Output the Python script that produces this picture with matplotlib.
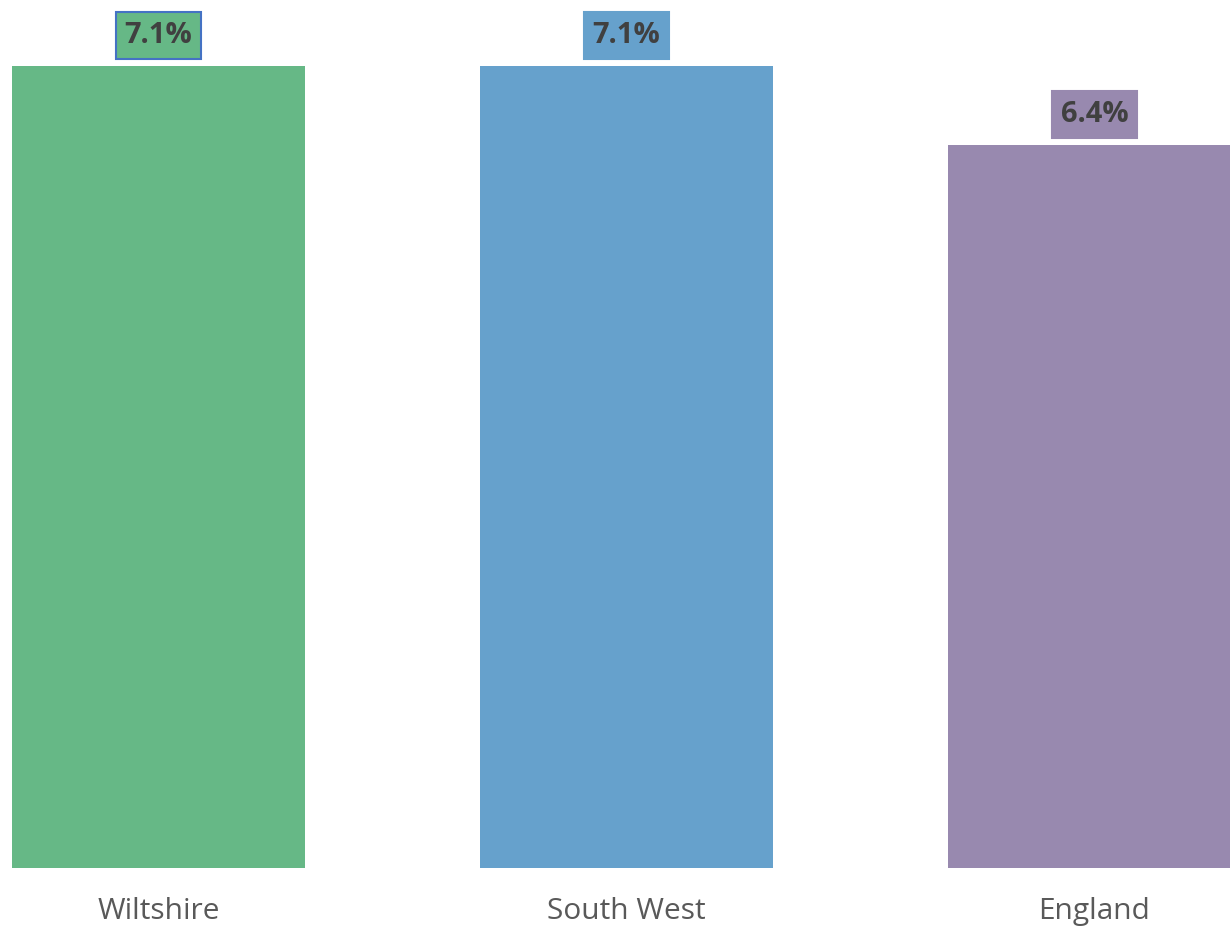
import matplotlib.pyplot as plt

# Data
regions = ["Wiltshire", "South West", "England"]
values = [7.1, 7.1, 6.4]
colors = ["#66b886", "#66a1cc", "#9889af"]

fig = plt.figure(figsize=(12.3, 9.26), dpi=100)
ax = fig.add_axes([0, 58 / 926, 1, 868 / 926])

x = range(len(regions))
bars = ax.bar(x, values, width=0.626, color=colors)

ax.set_xlim(-0.3387, 2.2895)
ax.set_ylim(0, 7.684)

# Value labels with coloured boxes
for i, (b, v) in enumerate(zip(bars, values)):
    edge = "#4472c4" if i == 0 else colors[i]
    ax.annotate(f"{v:.1f}%", xy=(b.get_x() + b.get_width() / 2, v),
                xytext=(0, 22), textcoords="offset points",
                ha="center", va="center", fontsize=21, fontweight="bold",
                family="Open Sans", color="#404040", clip_on=False,
                bbox=dict(boxstyle="square,pad=0.3", fc=colors[i],
                          ec=edge, lw=1.5))

ax.set_xticks(list(x))
ax.set_xticklabels(regions, family="Open Sans", fontsize=21.5, color="#595959")
ax.tick_params(axis="x", length=0, pad=21)
ax.set_yticks([])
for s in ax.spines.values():
    s.set_visible(False)

fig.savefig("out.png", dpi=100)
